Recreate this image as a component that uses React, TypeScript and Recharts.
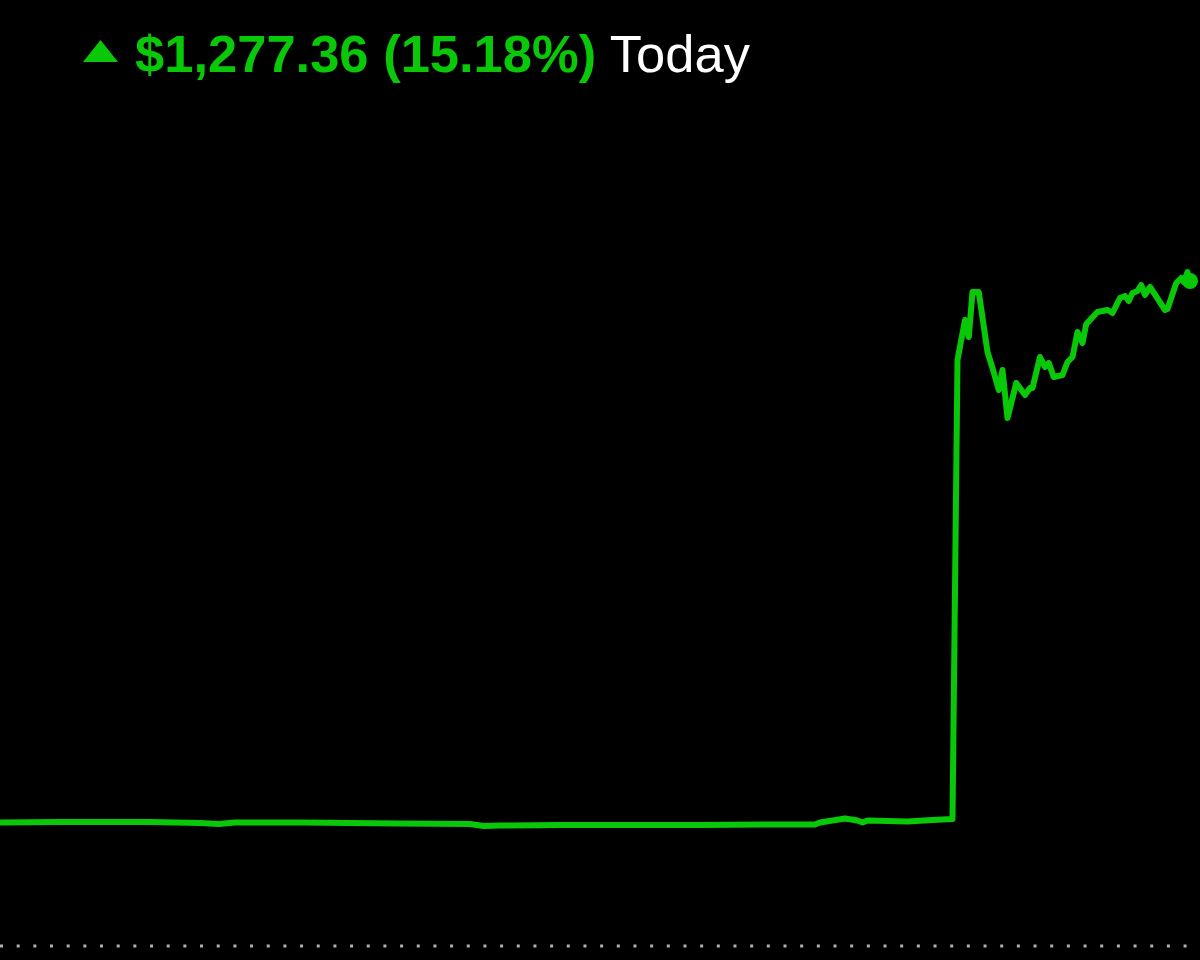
import React from "react";
import { LineChart, Line, XAxis, YAxis, ReferenceLine } from "recharts";

// minutes since start of the session window
const times: number[] = [
  0, 48, 120, 160, 175, 188, 240, 320, 376, 387, 400, 448, 520, 560, 624, 652,
  656, 676, 686, 690, 694, 726, 746, 762, 766, 772, 775, 778, 783, 790, 794,
  799, 802, 806, 813, 820, 824, 826, 832, 836, 839, 843, 850, 854, 858, 862,
  866, 869, 878, 886, 890, 896, 900, 903, 906, 910, 913, 916, 920, 932, 934,
  941, 945, 947, 950, 952,
];

// portfolio value ($)
const values: number[] = [
  8414.4, 8415.6, 8415.6, 8413.2, 8410.9, 8414.4, 8414.4, 8412.1, 8410.9,
  8406.2, 8407.4, 8408.5, 8408.5, 8408.5, 8409.7, 8409.7, 8414.4, 8423.9,
  8419.1, 8414.4, 8419.1, 8416.8, 8420.3, 8422.7, 9505.6, 9600.0, 9559.9,
  9666.1, 9666.1, 9524.5, 9486.7, 9434.8, 9482.0, 9368.8, 9451.3, 9423.0,
  9439.6, 9439.6, 9512.7, 9489.1, 9498.5, 9465.5, 9470.2, 9500.9, 9512.7,
  9571.7, 9545.7, 9590.6, 9618.9, 9623.6, 9616.5, 9651.9, 9656.6, 9644.8,
  9663.7, 9668.4, 9682.6, 9659.0, 9677.9, 9623.6, 9625.9, 9687.3, 9699.1,
  9689.6, 9713.2, 9692.0,
];

const changeLabel = "$1,277.36 (15.18%)";
const periodLabel = "Today";
const baselineValue = 8123;

const xDomain: [number, number] = [0, 960];
const yDomain: [number, number] = [8090, 10355];

const data = times.map((t, i) => ({ t, v: values[i] }));

const GREEN = "#08c808";

const renderDot = (props: any) => {
  const { cx, cy, index } = props;
  if (index !== data.length - 1) return <g key={`d${index}`} />;
  return <circle key={`d${index}`} cx={cx} cy={cy} r={8} fill={GREEN} />;
};

export default function App() {
  return (
    <div
      style={{
        position: "fixed",
        left: 0,
        top: 0,
        width: 1200,
        height: 960,
        background: "#000",
        overflow: "hidden",
      }}
    >
      <LineChart
        width={1200}
        height={960}
        data={data}
        margin={{ top: 0, right: 0, bottom: 0, left: 0 }}
      >
        <XAxis dataKey="t" type="number" domain={xDomain} hide />
        <YAxis type="number" domain={yDomain} hide allowDataOverflow />
        <ReferenceLine
          y={baselineValue}
          stroke="#b0b0b0"
          strokeWidth={3}
          strokeDasharray="3 13.67"
        />
        <Line
          type="linear"
          dataKey="v"
          stroke={GREEN}
          strokeWidth={6}
          strokeLinejoin="round"
          strokeLinecap="round"
          dot={renderDot}
          activeDot={false}
          isAnimationActive={false}
        />
      </LineChart>
      <svg
        width={1200}
        height={110}
        style={{ position: "absolute", left: 0, top: 0 }}
      >
        <polygon points="83,62 118,62 100.5,40" fill={GREEN} />
        <text
          x={135}
          y={72}
          fontFamily="'Liberation Sans', Arial, sans-serif"
          fontSize={52.5}
        >
          <tspan fill={GREEN} fontWeight="bold">
            {changeLabel}
          </tspan>
          <tspan fill="#ffffff" fontWeight="normal">
            {" " + periodLabel}
          </tspan>
        </text>
      </svg>
    </div>
  );
}
